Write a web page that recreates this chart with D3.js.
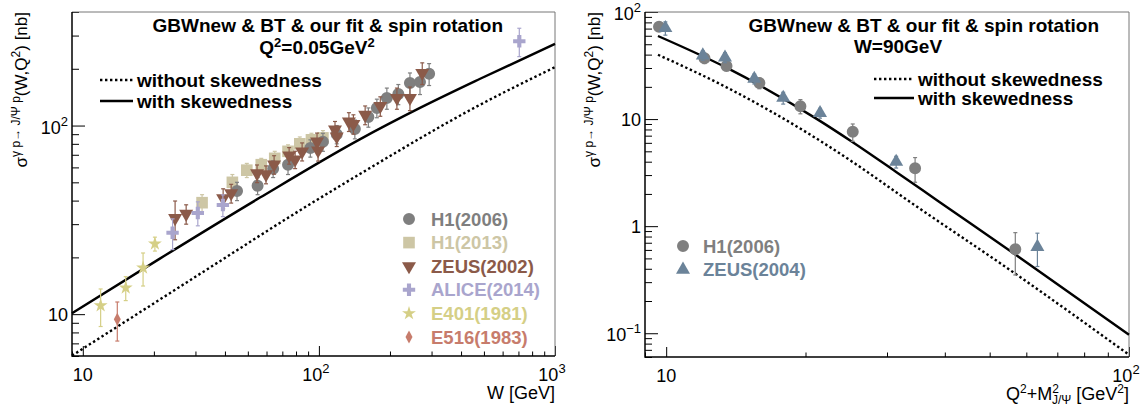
<!DOCTYPE html>
<html><head><meta charset="utf-8">
<script src="https://cdn.jsdelivr.net/npm/d3@7"></script>
<style>body{margin:0;background:#fff}svg{display:block}text{font-family:"Liberation Sans",Arial,Helvetica,sans-serif}</style>
</head><body><svg id="c" width="1143" height="408"></svg>
<script>
// ---------------- data ----------------
// left panel: sigma(W) at Q2 = 0.05 GeV^2   [W, sigma]
const leftWith    = [[9,10.1],[21.2,19.7],[56.3,41.5],[149,84.5],[268,124],[482,177],[1000,271]];
const leftWithout = [[9,6.03],[13.9,8.53],[38.1,19.1],[77.7,33.7],[149,55.3],[482,129],[1000,204]];
// data points [W, sigma, error]
const h1_2006 = [[45,45,5],[55,48,5],[64,59,6],[74,62,7],[92,76,8],[104,82,9],[119,90,10],[142,96,11],[162,111,13],[176,124,14],[194,140,18],[217,147,18],[243,168,22],[268,170,24],[293,188,25]];
const h1_2013 = [[32,39,4],[43,50,5],[49.5,58,5],[57,62,5],[65,67,6],[74,73,6],[83,80,7],[93,84,7],[104,86,8]];
const zeus_2002 = [[24.6,32.3,7.5],[27.4,34,4],[39.3,41.2,5],[42.5,43.8,5],[54.7,55.8,6],[59.7,55.1,6],[64.6,62.2,7],[74.8,69.4,7],[79.3,66.1,7],[84.9,72.9,8],[98.2,82.2,9],[99.2,73.8,9],[117,95.1,10],[119,87.4,10],[134,105,12],[140,102,12],[157,114,13],[182,127,15],[214,140,18],[243,140,20],[274,190,25]];
const alice_2014 = [[24,27,5],[30.7,34.4,5],[39.2,37.9,5],[706,280,48]];
const e401_1981 = [[11.9,11.1,2.5],[15.2,13.8,2],[18.0,17.6,3.5],[20.2,23.6,2]];
const e516_1983 = [[14.0,9.4,2.2]];
// right panel: sigma(Q2+M2) at W = 90 GeV
const rightWith    = [[9.6,59.7],[13.5,30.2],[21.1,10.1],[25.3,6.08],[31.4,3.21],[38.8,1.70],[56.8,0.544],[100,0.097]];
const rightWithout = [[9.6,39.9],[13.5,19.8],[21.1,6.6],[25.3,3.97],[33.6,1.69],[56.8,0.36],[100,0.063]];
const h1_2006_r = [[9.65,72.9,6],[12.1,37,4],[13.5,31.3,3],[15.9,21.7,2.5],[19.5,13.2,2],[25.3,7.6,1.4],[34.5,3.47,0.9],[56.8,0.61,0.26]];
const zeus_2004 = [[9.96,70.8,10],[12.0,39.3,4],[13.4,37.6,4],[15.5,23.8,2.5],[17.9,15.8,2],[21.5,11.4,1.2],[31.4,3.99,0.5],[63.4,0.64,0.22]];
// tick labels
const leftXTicks = [[10,"10",""],[100,"10","2"],[1000,"10","3"]];
const leftYTicks = [[10,"10",""],[100,"10","2"]];
const rightXTicks = [[10,"10",""],[100,"10","2"]];
const rightYTicks = [[0.1,"10","−1"],[1,"1",""],[10,"10",""],[100,"10","2"]];
const leftLegend = [["H1(2006)","circle","#7f7f7f"],["H1(2013)","square","#cdc6a5"],["ZEUS(2002)","tridown","#8b5a49"],["ALICE(2014)","cross","#a9a5cd"],["E401(1981)","star","#d5cf86"],["E516(1983)","diamond","#c77c6c"]];
const rightLegend = [["H1(2006)","circle","#7f7f7f"],["ZEUS(2004)","triup","#6b8399"]];

// ---------------- drawing ----------------
const svg = d3.select("#c");
const FONT = 18;

function markerPath(type){
  switch(type){
    case "circle": return d3.symbol(d3.symbolCircle, 113)();
    case "square": return d3.symbol(d3.symbolSquare, 135)();
    case "tridown": case "triup": return d3.symbol(d3.symbolTriangle, 85)();
    case "cross": return d3.symbol(d3.symbolCross, 85)();
    case "star": return d3.symbol(d3.symbolStar, 60)();
    case "diamond": return "M0,-6.5L3.5,0L0,6.5L-3.5,0Z";
  }
}
function drawMarker(g, type, x, y, color){
  g.append("path").attr("d", markerPath(type)).attr("fill", color)
    .attr("transform", `translate(${x},${y})` + (type==="tridown" ? " rotate(180)" : ""));
}

function panel(cfg){
  const {x, y, x0, x1, y0, y1} = cfg;
  const g = svg.append("g");
  const isPow = v => Math.abs(Math.log10(v) - Math.round(Math.log10(v))) < 1e-6;
  const xMinor = x.ticks().filter(v => !isPow(v));
  const xMajor = x.ticks().filter(isPow);
  const yMinor = y.ticks().filter(v => !isPow(v));
  const yMajor = y.ticks().filter(isPow);
  const styleAx = s => { s.select(".domain").remove(); s.selectAll("line").attr("stroke","#000").attr("stroke-width",1); s.selectAll("text").remove(); };
  g.append("g").attr("transform",`translate(0,${y1})`).call(d3.axisBottom(x).tickValues(xMinor).tickSize(-4.5).tickFormat("")).call(styleAx);
  g.append("g").attr("transform",`translate(0,${y1})`).call(d3.axisBottom(x).tickValues(xMajor).tickSize(-10).tickFormat("")).call(styleAx);
  g.append("g").attr("transform",`translate(${x0},0)`).call(d3.axisLeft(y).tickValues(yMinor).tickSize(-7).tickFormat("")).call(styleAx);
  g.append("g").attr("transform",`translate(${x0},0)`).call(d3.axisLeft(y).tickValues(yMajor).tickSize(-13).tickFormat("")).call(styleAx);
  // frame
  g.append("path").attr("d",`M${x0},${y0}H${x1}V${y1}`).attr("fill","none").attr("stroke","#777").attr("stroke-width",1);
  g.append("path").attr("d",`M${x0},${y0}V${y1}H${x1}`).attr("fill","none").attr("stroke","#000").attr("stroke-width",1.5);
  // tick labels
  cfg.xTicks.forEach(([v,b,s]) => {
    const t = g.append("text").attr("x", x(v) + (s ? -3 : 0)).attr("y", y1+25).attr("text-anchor","middle").attr("font-size",FONT);
    t.append("tspan").text(b);
    if (s) t.append("tspan").attr("dy",-8).attr("font-size",13).text(s);
  });
  cfg.yTicks.forEach(([v,b,s]) => {
    const t = g.append("text").attr("x", x0-4).attr("y", y(v)+ (s ? 8 : 6.5)).attr("text-anchor","end").attr("font-size",FONT);
    t.append("tspan").text(b);
    if (s) t.append("tspan").attr("dy",-8).attr("font-size",13).text(s);
  });
  return g;
}

function curves(g, x, y, withPts, withoutPts){
  const line = d3.line().x(d => x(d[0])).y(d => y(d[1])).curve(d3.curveMonotoneX);
  g.append("path").attr("d", line(withoutPts)).attr("fill","none").attr("stroke","#000").attr("stroke-width",2.4).attr("stroke-dasharray","2.4,2.6");
  g.append("path").attr("d", line(withPts)).attr("fill","none").attr("stroke","#000").attr("stroke-width",2.4);
}
function points(g, x, y, data, type, color){
  data.forEach(([a,b,e]) => {
    const px = x(a), ya = y(b+e), yb = y(Math.max(b-e, 1e-6));
    g.append("line").attr("x1",px).attr("x2",px).attr("y1",ya).attr("y2",yb).attr("stroke",color).attr("stroke-width",1.2);
    g.append("line").attr("x1",px-2).attr("x2",px+2).attr("y1",ya).attr("y2",ya).attr("stroke",color).attr("stroke-width",1.2);
    g.append("line").attr("x1",px-2).attr("x2",px+2).attr("y1",yb).attr("y2",yb).attr("stroke",color).attr("stroke-width",1.2);
  });
  data.forEach(([a,b]) => drawMarker(g, type, x(a), y(b), color));
}
function lineLegend(g, xs, xe, yA, yB){
  g.append("line").attr("x1",xs).attr("x2",xe).attr("y1",yA).attr("y2",yA).attr("stroke","#000").attr("stroke-width",2.4).attr("stroke-dasharray","2.4,2.6");
  g.append("line").attr("x1",xs).attr("x2",xe).attr("y1",yB).attr("y2",yB).attr("stroke","#000").attr("stroke-width",2.4);
  g.append("text").attr("x",xe+4).attr("y",yA+7).attr("font-size",19).attr("font-weight","bold").text("without skewedness");
  g.append("text").attr("x",xe+4).attr("y",yB+7).attr("font-size",19).attr("font-weight","bold").text("with skewedness");
}
function yTitle(g, xb){
  const t = g.append("text").attr("transform",`translate(${xb},12) rotate(-90)`).attr("text-anchor","end").attr("font-size",17);
  t.append("tspan").text("σ");
  t.append("tspan").attr("dy",-7).attr("font-size",12).text("γ p→ J/Ψ p");
  t.append("tspan").attr("dy",7).text("(W,Q");
  t.append("tspan").attr("dy",-7).attr("font-size",12).text("2");
  t.append("tspan").attr("dy",7).text(") [nb]");
}

// ----- left panel -----
const xL = d3.scaleLog().domain([9,1000]).range([72,555]);
const yL = d3.scaleLog().domain([6,400]).range([356,12]);
const gL = panel({x:xL, y:yL, x0:72, x1:555, y0:12, y1:356, xTicks:leftXTicks, yTicks:leftYTicks});
curves(gL, xL, yL, leftWith, leftWithout);
points(gL, xL, yL, h1_2013, "square", leftLegend[1][2]);
points(gL, xL, yL, h1_2006, "circle", leftLegend[0][2]);
points(gL, xL, yL, zeus_2002, "tridown", leftLegend[2][2]);
points(gL, xL, yL, alice_2014, "cross", leftLegend[3][2]);
points(gL, xL, yL, e401_1981, "star", leftLegend[4][2]);
points(gL, xL, yL, e516_1983, "diamond", leftLegend[5][2]);
lineLegend(gL, 100, 133, 80, 101);
leftLegend.forEach(([name,type,color],i) => {
  const yy = 219 + i*23.6;
  drawMarker(gL, type, 409, yy, color);
  gL.append("text").attr("x",431).attr("y",yy+6.5).attr("font-size",18.5).attr("font-weight","bold").attr("fill",color).text(name);
});
gL.append("text").attr("x",503).attr("y",31.5).attr("text-anchor","end").attr("font-size",19).attr("font-weight","bold").text("GBWnew & BT & our fit & spin rotation");
{
  const t = gL.append("text").attr("x",317).attr("y",54).attr("text-anchor","middle").attr("font-size",19).attr("font-weight","bold");
  t.append("tspan").text("Q"); t.append("tspan").attr("dy",-7).attr("font-size",13).text("2");
  t.append("tspan").attr("dy",7).text("=0.05GeV"); t.append("tspan").attr("dy",-7).attr("font-size",13).text("2");
}
yTitle(gL, 27);
gL.append("text").attr("x",555).attr("y",399).attr("text-anchor","end").attr("font-size",18).text("W [GeV]");

// ----- right panel -----
const xR = d3.scaleLog().domain([9,100]).range([645,1129]);
const yR = d3.scaleLog().domain([0.06,100]).range([357,12]);
const gR = panel({x:xR, y:yR, x0:645, x1:1129, y0:12, y1:357, xTicks:rightXTicks, yTicks:rightYTicks});
curves(gR, xR, yR, rightWith, rightWithout);
points(gR, xR, yR, h1_2006_r, "circle", rightLegend[0][2]);
points(gR, xR, yR, zeus_2004, "triup", rightLegend[1][2]);
lineLegend(gR, 874, 914, 79, 98);
rightLegend.forEach(([name,type,color],i) => {
  const yy = 246 + i*23.6;
  drawMarker(gR, type, 683, yy, color);
  gR.append("text").attr("x",703).attr("y",yy+6.5).attr("font-size",18.5).attr("font-weight","bold").attr("fill",color).text(name);
});
gR.append("text").attr("x",1099).attr("y",31.5).attr("text-anchor","end").attr("font-size",19).attr("font-weight","bold").text("GBWnew & BT & our fit & spin rotation");
gR.append("text").attr("x",898).attr("y",53).attr("text-anchor","middle").attr("font-size",19).attr("font-weight","bold").text("W=90GeV");
yTitle(gR, 600);
{
  const t = gR.append("text").attr("x",1129).attr("y",400).attr("text-anchor","end").attr("font-size",18);
  t.append("tspan").text("Q"); t.append("tspan").attr("dy",-7).attr("font-size",12).text("2");
  t.append("tspan").attr("dy",7).text("+M"); t.append("tspan").attr("dy",-7).attr("font-size",12).text("2");
  t.append("tspan").attr("dy",11).attr("dx",-7).attr("font-size",12).text("J/Ψ");
  t.append("tspan").attr("dy",-4).text(" [GeV"); t.append("tspan").attr("dy",-7).attr("font-size",12).text("2");
  t.append("tspan").attr("dy",7).text("]");
}
</script></body></html>
